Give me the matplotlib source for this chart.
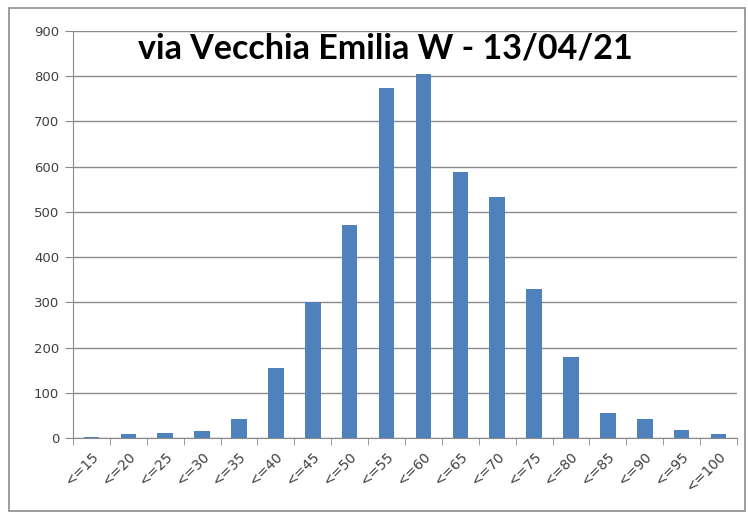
import matplotlib
matplotlib.use("Agg")
import matplotlib.pyplot as plt
from matplotlib.patches import Rectangle
import numpy as np

# dati
categorie = ["<=15", "<=20", "<=25", "<=30", "<=35", "<=40", "<=45", "<=50", "<=55",
             "<=60", "<=65", "<=70", "<=75", "<=80", "<=85", "<=90", "<=95", "<=100"]
conteggi = [2, 8, 10, 15, 42, 155, 300, 470, 773, 805, 588, 532, 329, 180, 55, 42, 17, 8]
titolo = "via Vecchia Emilia W - 13/04/21"

W, H = 748, 517
fig = plt.figure(figsize=(W / 100, H / 100), dpi=100)
fig.patch.set_facecolor("white")

# cornice esterna
fig.patches.append(Rectangle((9 / W, 1 - 511 / H), 736 / W, 503 / H, transform=fig.transFigure,
                             fill=False, edgecolor="#8c8c8c", linewidth=1.2))

ax = fig.add_axes([73 / W, 1 - 438 / H, 664 / W, 407 / H])
indice = np.arange(len(categorie))
ax.bar(indice, conteggi, width=0.42, color="#4F81BD", zorder=3)

ax.set_xlim(-0.5, len(categorie) - 0.5)
ax.set_ylim(0, 900)
ax.set_yticks(np.arange(0, 901, 100))
ax.grid(axis="y", color="#8a8a8a", linewidth=1.0, zorder=0)

ax.set_xticks(indice)
ax.set_xticklabels(categorie, rotation=45, ha="right", rotation_mode="anchor",
                   fontsize=10, color="#404040")
ax.set_xticks(np.arange(-0.5, len(categorie), 1), minor=True)
ax.tick_params(axis="x", which="major", length=0, pad=8)
ax.tick_params(axis="x", which="minor", length=5, color="#8a8a8a", direction="out")
ax.tick_params(axis="y", length=6, color="#8a8a8a", labelsize=9.5, labelcolor="#404040", pad=4)

for s in ["top", "right"]:
    ax.spines[s].set_visible(False)
ax.spines["left"].set_color("#8a8a8a")
ax.spines["bottom"].set_color("#8a8a8a")

ax.text(0.47, 0.958, titolo, transform=ax.transAxes, ha="center", va="center",
        fontsize=24.5, fontweight="bold", family="Lato", color="black")

plt.savefig("out.png", dpi=100)
